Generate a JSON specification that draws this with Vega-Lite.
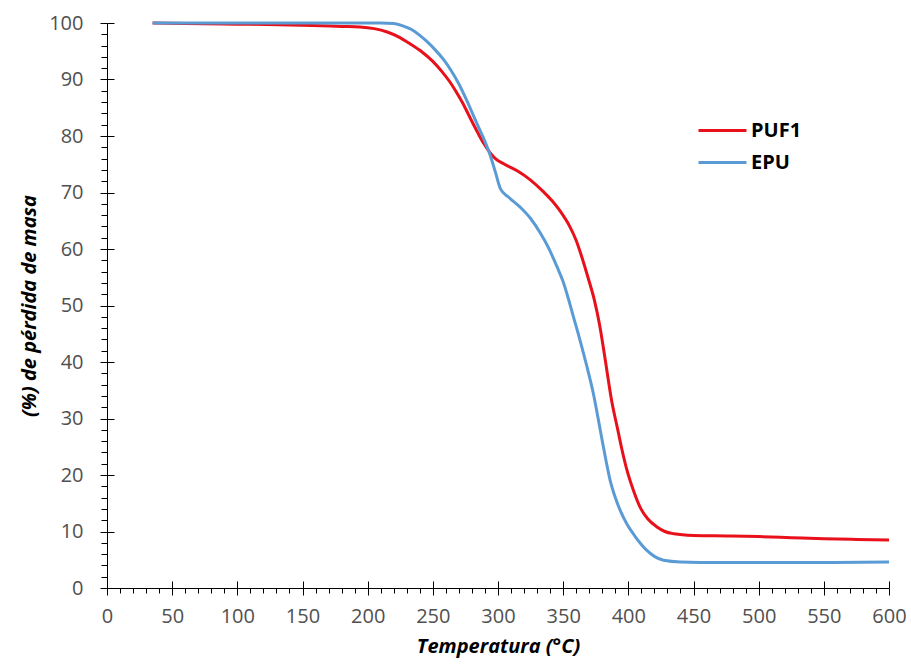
{
  "$schema": "https://vega.github.io/schema/vega-lite/v6.json",
  "width": 782,
  "height": 565,
  "autosize": {"type": "none"},
  "padding": {"left": 107, "top": 23, "right": 22, "bottom": 76},
  "background": "white",
  "config": {
    "view": {"stroke": null},
    "font": "Open Sans",
    "axis": {"grid": false, "domainColor": "#000000", "tickColor": "#000000", "domainWidth": 1, "tickWidth": 1}
  },
  "data": {
    "values": [
      {"T": 35, "masa": 100.0, "serie": "PUF1"},
      {"T": 60, "masa": 99.9, "serie": "PUF1"},
      {"T": 100, "masa": 99.8, "serie": "PUF1"},
      {"T": 150, "masa": 99.6, "serie": "PUF1"},
      {"T": 180, "masa": 99.4, "serie": "PUF1"},
      {"T": 194, "masa": 99.3, "serie": "PUF1"},
      {"T": 205, "masa": 99.0, "serie": "PUF1"},
      {"T": 215, "masa": 98.4, "serie": "PUF1"},
      {"T": 224, "masa": 97.5, "serie": "PUF1"},
      {"T": 232, "masa": 96.4, "serie": "PUF1"},
      {"T": 241, "masa": 95.0, "serie": "PUF1"},
      {"T": 250, "masa": 93.2, "serie": "PUF1"},
      {"T": 257, "masa": 91.4, "serie": "PUF1"},
      {"T": 263, "masa": 89.6, "serie": "PUF1"},
      {"T": 268, "masa": 87.8, "serie": "PUF1"},
      {"T": 273, "masa": 85.8, "serie": "PUF1"},
      {"T": 278, "masa": 83.5, "serie": "PUF1"},
      {"T": 284, "masa": 80.8, "serie": "PUF1"},
      {"T": 289, "masa": 78.7, "serie": "PUF1"},
      {"T": 294, "masa": 77.0, "serie": "PUF1"},
      {"T": 298, "masa": 76.0, "serie": "PUF1"},
      {"T": 305, "masa": 75.0, "serie": "PUF1"},
      {"T": 315, "masa": 73.8, "serie": "PUF1"},
      {"T": 325, "masa": 72.2, "serie": "PUF1"},
      {"T": 335, "masa": 70.1, "serie": "PUF1"},
      {"T": 342, "masa": 68.4, "serie": "PUF1"},
      {"T": 348, "masa": 66.6, "serie": "PUF1"},
      {"T": 355, "masa": 64.0, "serie": "PUF1"},
      {"T": 360, "masa": 61.5, "serie": "PUF1"},
      {"T": 364, "masa": 58.8, "serie": "PUF1"},
      {"T": 369, "masa": 55.0, "serie": "PUF1"},
      {"T": 374, "masa": 50.9, "serie": "PUF1"},
      {"T": 378, "masa": 46.5, "serie": "PUF1"},
      {"T": 381, "masa": 42.3, "serie": "PUF1"},
      {"T": 384, "masa": 37.8, "serie": "PUF1"},
      {"T": 387, "masa": 33.4, "serie": "PUF1"},
      {"T": 392, "masa": 27.9, "serie": "PUF1"},
      {"T": 395, "masa": 24.6, "serie": "PUF1"},
      {"T": 399, "masa": 20.8, "serie": "PUF1"},
      {"T": 404, "masa": 17.2, "serie": "PUF1"},
      {"T": 409, "masa": 14.3, "serie": "PUF1"},
      {"T": 415, "masa": 12.2, "serie": "PUF1"},
      {"T": 422, "masa": 10.8, "serie": "PUF1"},
      {"T": 428, "masa": 10.0, "serie": "PUF1"},
      {"T": 435, "masa": 9.6, "serie": "PUF1"},
      {"T": 450, "masa": 9.3, "serie": "PUF1"},
      {"T": 475, "masa": 9.2, "serie": "PUF1"},
      {"T": 500, "masa": 9.1, "serie": "PUF1"},
      {"T": 525, "masa": 8.9, "serie": "PUF1"},
      {"T": 550, "masa": 8.7, "serie": "PUF1"},
      {"T": 575, "masa": 8.6, "serie": "PUF1"},
      {"T": 600, "masa": 8.5, "serie": "PUF1"},
      {"T": 35, "masa": 100.0, "serie": "EPU"},
      {"T": 100, "masa": 100.0, "serie": "EPU"},
      {"T": 150, "masa": 100.0, "serie": "EPU"},
      {"T": 194, "masa": 100.0, "serie": "EPU"},
      {"T": 210, "masa": 100.0, "serie": "EPU"},
      {"T": 220, "masa": 99.9, "serie": "EPU"},
      {"T": 227, "masa": 99.5, "serie": "EPU"},
      {"T": 234, "masa": 98.8, "serie": "EPU"},
      {"T": 240, "masa": 97.8, "serie": "EPU"},
      {"T": 246, "masa": 96.6, "serie": "EPU"},
      {"T": 252, "masa": 95.2, "serie": "EPU"},
      {"T": 258, "masa": 93.6, "serie": "EPU"},
      {"T": 264, "masa": 91.6, "serie": "EPU"},
      {"T": 270, "masa": 89.2, "serie": "EPU"},
      {"T": 276, "masa": 86.3, "serie": "EPU"},
      {"T": 281, "masa": 83.7, "serie": "EPU"},
      {"T": 286, "masa": 81.1, "serie": "EPU"},
      {"T": 290, "masa": 79.0, "serie": "EPU"},
      {"T": 294, "masa": 76.6, "serie": "EPU"},
      {"T": 298, "masa": 73.6, "serie": "EPU"},
      {"T": 302, "masa": 70.6, "serie": "EPU"},
      {"T": 308, "masa": 69.2, "serie": "EPU"},
      {"T": 317, "masa": 67.4, "serie": "EPU"},
      {"T": 325, "masa": 65.4, "serie": "EPU"},
      {"T": 332, "masa": 63.0, "serie": "EPU"},
      {"T": 339, "masa": 60.1, "serie": "EPU"},
      {"T": 345, "masa": 57.0, "serie": "EPU"},
      {"T": 350, "masa": 54.2, "serie": "EPU"},
      {"T": 354, "masa": 51.2, "serie": "EPU"},
      {"T": 358, "masa": 47.9, "serie": "EPU"},
      {"T": 363, "masa": 43.8, "serie": "EPU"},
      {"T": 368, "masa": 39.4, "serie": "EPU"},
      {"T": 373, "masa": 34.6, "serie": "EPU"},
      {"T": 377, "masa": 29.8, "serie": "EPU"},
      {"T": 380, "masa": 26.0, "serie": "EPU"},
      {"T": 383, "masa": 22.4, "serie": "EPU"},
      {"T": 386, "masa": 19.1, "serie": "EPU"},
      {"T": 390, "masa": 16.0, "serie": "EPU"},
      {"T": 394, "masa": 13.6, "serie": "EPU"},
      {"T": 399, "masa": 11.3, "serie": "EPU"},
      {"T": 405, "masa": 9.2, "serie": "EPU"},
      {"T": 410, "masa": 7.7, "serie": "EPU"},
      {"T": 414, "masa": 6.7, "serie": "EPU"},
      {"T": 420, "masa": 5.6, "serie": "EPU"},
      {"T": 427, "masa": 4.9, "serie": "EPU"},
      {"T": 440, "masa": 4.6, "serie": "EPU"},
      {"T": 470, "masa": 4.5, "serie": "EPU"},
      {"T": 500, "masa": 4.5, "serie": "EPU"},
      {"T": 550, "masa": 4.5, "serie": "EPU"},
      {"T": 600, "masa": 4.6, "serie": "EPU"}
    ]
  },
  "layer": [
    {
      "mark": {"type": "line", "strokeWidth": 3, "interpolate": "monotone"},
      "encoding": {
        "x": {
          "field": "T", "type": "quantitative",
          "scale": {"domain": [0, 600], "nice": false, "zero": false},
          "axis": {
            "orient": "bottom",
            "values": [0, 50, 100, 150, 200, 250, 300, 350, 400, 450, 500, 550, 600],
            "tickSize": 7,
            "labelFontSize": 20, "labelColor": "#505050", "labelPadding": 11,
            "labelFlush": false,
            "title": "Temperatura (°C)",
            "titleFontSize": 20, "titleFontStyle": "italic", "titleFontWeight": "bold",
            "titleColor": "#000000", "titlePadding": 10
          }
        },
        "y": {
          "field": "masa", "type": "quantitative",
          "scale": {"domain": [0, 100], "nice": false},
          "axis": {
            "orient": "left",
            "values": [0, 10, 20, 30, 40, 50, 60, 70, 80, 90, 100],
            "tickSize": 7,
            "labelFontSize": 20, "labelColor": "#505050", "labelPadding": 17,
            "labelFlush": false,
            "title": "(%) de pérdida de masa",
            "titleFontSize": 20, "titleFontStyle": "italic", "titleFontWeight": "bold",
            "titleColor": "#000000", "titlePadding": 9
          }
        },
        "color": {
          "field": "serie", "type": "nominal",
          "scale": {"domain": ["PUF1", "EPU"], "range": ["#E8101A", "#5B9BD5"]},
          "legend": {
            "orient": "none", "legendX": 598, "legendY": 90,
            "title": null, "padding": 0,
            "symbolType": "M-1.5,0L1.5,0", "symbolSize": 1024, "symbolStrokeWidth": 3,
            "labelFontSize": 20, "labelFontWeight": "bold", "labelColor": "#000000",
            "labelOffset": 11, "rowPadding": 4
          }
        }
      }
    },
    {
      "mark": {"type": "point", "opacity": 0},
      "encoding": {
        "x": {
          "field": "T", "type": "quantitative",
          "axis": {
            "orient": "bottom", "domain": false, "labels": false, "title": null,
            "values": [10, 20, 30, 40, 60, 70, 80, 90, 110, 120, 130, 140, 160, 170, 180, 190, 210, 220, 230, 240, 260, 270, 280, 290, 310, 320, 330, 340, 360, 370, 380, 390, 410, 420, 430, 440, 460, 470, 480, 490, 510, 520, 530, 540, 560, 570, 580, 590],
            "tickSize": 5
          }
        },
        "y": {
          "field": "masa", "type": "quantitative",
          "axis": {
            "orient": "left", "domain": false, "labels": false, "title": null,
            "values": [2, 4, 6, 8, 12, 14, 16, 18, 22, 24, 26, 28, 32, 34, 36, 38, 42, 44, 46, 48, 52, 54, 56, 58, 62, 64, 66, 68, 72, 74, 76, 78, 82, 84, 86, 88, 92, 94, 96, 98],
            "tickSize": 6
          }
        }
      }
    },
    {
      "mark": {"type": "point", "opacity": 0},
      "encoding": {
        "x": {
          "field": "T", "type": "quantitative",
          "axis": {
            "orient": "bottom", "domain": false, "labels": false, "title": null,
            "values": [0, 50, 100, 150, 200, 250, 300, 350, 400, 450, 500, 550, 600],
            "tickSize": -7
          }
        },
        "y": {
          "field": "masa", "type": "quantitative",
          "axis": {
            "orient": "left", "domain": false, "labels": false, "title": null,
            "values": [0, 10, 20, 30, 40, 50, 60, 70, 80, 90, 100],
            "tickSize": -7
          }
        }
      }
    }
  ],
  "resolve": {"axis": {"x": "independent", "y": "independent"}}
}
